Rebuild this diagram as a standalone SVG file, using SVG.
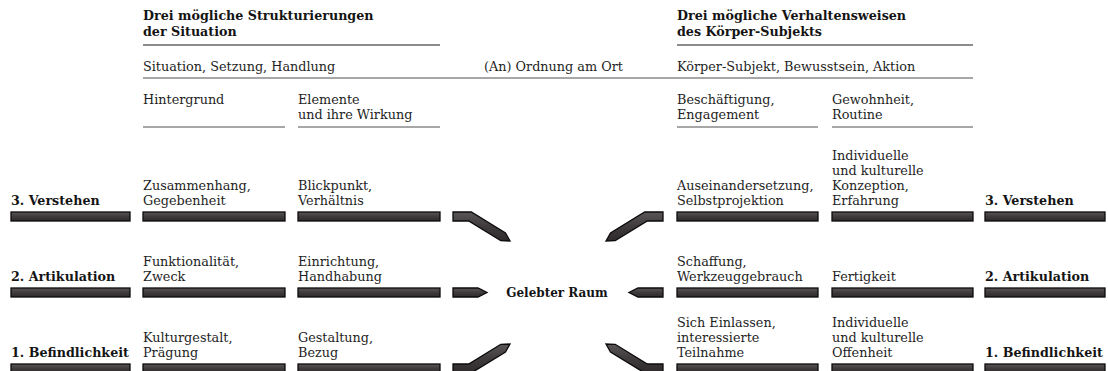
<svg xmlns="http://www.w3.org/2000/svg" width="1108" height="371" viewBox="0 0 1108 371">
<defs>
<linearGradient id="barg" x1="0" y1="0" x2="0" y2="1">
<stop offset="0" stop-color="#5a5557"/>
<stop offset="0.5" stop-color="#3f3a3c"/>
<stop offset="1" stop-color="#2e2a2b"/>
</linearGradient>
</defs>
<style>
text{font-family:"DejaVu Serif","Liberation Serif",serif;font-size:12.8px;fill:#1e1e1e}
.b{font-weight:bold;font-size:12.7px;fill:#141414}
.c{font-weight:bold;font-size:12px;fill:#141414}
.bar,.arr{fill:url(#barg);stroke:#0b0b0b;stroke-width:1.3;stroke-linejoin:miter}
.hl{stroke:#1a1a1a;stroke-width:1.1}
.gl{stroke:#8a8a8a;stroke-width:1.6}
</style>
<rect width="1108" height="371" fill="#fff"/>

<g id="header-left">
<text class="b" x="143" y="20">Drei mögliche Strukturierungen</text>
<text class="b" x="143" y="36">der Situation</text>
<line class="hl" x1="143" y1="45" x2="440" y2="45"/>
</g>
<g id="header-right">
<text class="b" x="677" y="20">Drei mögliche Verhaltensweisen</text>
<text class="b" x="677" y="36">des Körper-Subjekts</text>
<line class="hl" x1="677" y1="45" x2="973" y2="45"/>
</g>
<g id="subheader">
<text x="143" y="71">Situation, Setzung, Handlung</text>
<text x="484" y="71">(An) Ordnung am Ort</text>
<text x="677" y="71">Körper-Subjekt, Bewusstsein, Aktion</text>
<line class="gl" x1="143" y1="78" x2="973" y2="78"/>
</g>
<g id="col-hintergrund">
<text x="143" y="104">Hintergrund</text>
<line class="gl" x1="143" y1="127" x2="285" y2="127"/>
</g>
<g id="col-elemente">
<text x="298" y="104">Elemente</text>
<text x="298" y="119">und ihre Wirkung</text>
<line class="gl" x1="298" y1="127" x2="440" y2="127"/>
</g>
<g id="col-beschaeftigung">
<text x="677" y="104">Beschäftigung,</text>
<text x="677" y="119">Engagement</text>
<line class="gl" x1="677" y1="127" x2="818" y2="127"/>
</g>
<g id="col-gewohnheit">
<text x="832" y="104">Gewohnheit,</text>
<text x="832" y="119">Routine</text>
<line class="gl" x1="832" y1="127" x2="973" y2="127"/>
</g>

<!-- Row 3 -->
<g id="l3-label"><text class="b" x="11" y="205">3. Verstehen</text><rect class="bar" x="11" y="212" width="119" height="9"/></g>
<g id="l3-c1"><text x="143" y="190">Zusammenhang,</text><text x="143" y="205">Gegebenheit</text><rect class="bar" x="143" y="212" width="142" height="9"/></g>
<g id="l3-c2"><text x="298" y="190">Blickpunkt,</text><text x="298" y="205">Verhältnis</text><rect class="bar" x="298" y="212" width="142" height="9"/></g>
<g id="r3-c1"><text x="677" y="190">Auseinandersetzung,</text><text x="677" y="205">Selbstprojektion</text><rect class="bar" x="677" y="212" width="141" height="9"/></g>
<g id="r3-c2"><text x="832" y="160">Individuelle</text><text x="832" y="175">und kulturelle</text><text x="832" y="190">Konzeption,</text><text x="832" y="205">Erfahrung</text><rect class="bar" x="832" y="212" width="141" height="9"/></g>
<g id="r3-label"><text class="b" x="985" y="205">3. Verstehen</text><rect class="bar" x="985" y="212" width="120" height="9"/></g>

<!-- Row 2 -->
<g id="l2-label"><text class="b" x="11" y="281">2. Artikulation</text><rect class="bar" x="11" y="288" width="119" height="9"/></g>
<g id="l2-c1"><text x="143" y="266">Funktionalität,</text><text x="143" y="281">Zweck</text><rect class="bar" x="143" y="288" width="142" height="9"/></g>
<g id="l2-c2"><text x="298" y="266">Einrichtung,</text><text x="298" y="281">Handhabung</text><rect class="bar" x="298" y="288" width="142" height="9"/></g>
<g id="r2-c1"><text x="677" y="266">Schaffung,</text><text x="677" y="281">Werkzeuggebrauch</text><rect class="bar" x="677" y="288" width="141" height="9"/></g>
<g id="r2-c2"><text x="832" y="281">Fertigkeit</text><rect class="bar" x="832" y="288" width="141" height="9"/></g>
<g id="r2-label"><text class="b" x="985" y="281">2. Artikulation</text><rect class="bar" x="985" y="288" width="120" height="9"/></g>

<!-- Row 1 -->
<g id="l1-label"><text class="b" x="11" y="357">1. Befindlichkeit</text><rect class="bar" x="11" y="364" width="119" height="9"/></g>
<g id="l1-c1"><text x="143" y="342">Kulturgestalt,</text><text x="143" y="357">Prägung</text><rect class="bar" x="143" y="364" width="142" height="9"/></g>
<g id="l1-c2"><text x="298" y="342">Gestaltung,</text><text x="298" y="357">Bezug</text><rect class="bar" x="298" y="364" width="142" height="9"/></g>
<g id="r1-c1"><text x="677" y="327">Sich Einlassen,</text><text x="677" y="342">interessierte</text><text x="677" y="357">Teilnahme</text><rect class="bar" x="677" y="364" width="141" height="9"/></g>
<g id="r1-c2"><text x="832" y="327">Individuelle</text><text x="832" y="342">und kulturelle</text><text x="832" y="357">Offenheit</text><rect class="bar" x="832" y="364" width="141" height="9"/></g>
<g id="r1-label"><text class="b" x="985" y="357">1. Befindlichkeit</text><rect class="bar" x="985" y="364" width="120" height="9"/></g>

<g id="center">
<text class="c" x="557" y="297" text-anchor="middle">Gelebter Raum</text>
</g>

<g id="connectors">
<polygon class="arr" points="453,212 471.3,212 505.5,233 510,241 500.8,240.7 468.7,221 453,221"/>
<polygon class="arr" points="663,212 644.7,212 610.5,233 606,241 615.2,240.7 647.3,221 663,221"/>
<polygon class="arr" points="453,288 478,288 487,292.5 478,297 453,297"/>
<polygon class="arr" points="663,288 638,288 629,292.5 638,297 663,297"/>
<polygon class="arr" points="453,373 471.3,373 505.5,352 510,344 500.8,344.3 468.7,364 453,364"/>
<polygon class="arr" points="663,373 644.7,373 610.5,352 606,344 615.2,344.3 647.3,364 663,364"/>
</g>
</svg>
